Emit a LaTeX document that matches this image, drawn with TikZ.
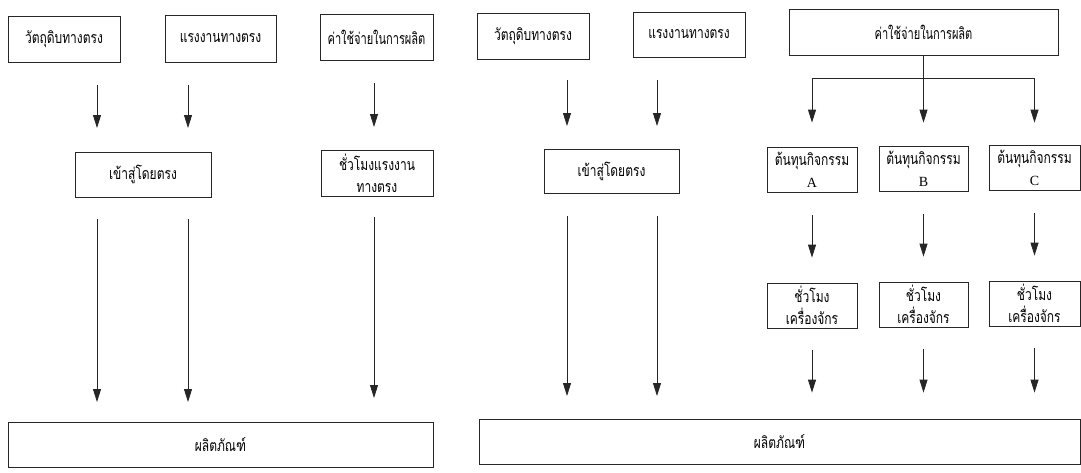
\documentclass[tikz,border=0pt]{standalone}
\usepackage{fontspec}
\newfontfamily\thaifont[Script=Thai,FakeStretch=0.75]{Loma}
\newfontfamily\latinserif{Liberation Serif}
\usetikzlibrary{arrows.meta}
\newcommand\mybox[6]{\node[box, minimum width={(#4)-(#2)}, minimum height={(#5)-(#3)}] (#1) at ({((#2)+(#4))/2},{((#3)+(#5))/2}) {#6};}
\newcommand\lat[1]{{\latinserif\fontsize{14}{22}\selectfont #1}}
\newcommand\narrow[1]{\scalebox{0.92}[1]{#1}}
\begin{document}
\begin{tikzpicture}[x=1pt,y=-1pt,
  box/.style={draw=black!85, line width=0.8pt, inner sep=0pt, align=center,
    font=\thaifont\fontsize{16}{22}\selectfont},
  arr/.style={draw=black!85, line width=0.8pt, -{Triangle[length=13pt,width=8pt]}},
  ln/.style={draw=black!85, line width=0.8pt}]
\useasboundingbox (0,0) rectangle (1081,472);
\fill[white] (0,0) rectangle (1081,472);
% ---- left diagram ----
\mybox{L1}{8}{16}{120}{62}{วัตถุดิบทางตรง}
\mybox{L2}{165}{15}{276}{62}{แรงงานทางตรง}
\mybox{L3}{320}{14}{433}{60}{\narrow{ค่าใช้จ่ายในการผลิต}}
\mybox{L4}{75}{152}{211}{197}{เข้าสู่โดยตรง}
\mybox{L5}{321}{150}{433}{196}{ชั่วโมงแรงงาน\\ทางตรง}
\mybox{L6}{8}{422}{433}{467}{ผลิตภัณฑ์}
\coordinate (la1s) at (97,85);  \coordinate (la1e) at (97,128);
\coordinate (la2s) at (188,85); \coordinate (la2e) at (188,128);
\coordinate (la3s) at (374,83); \coordinate (la3e) at (374,127);
\coordinate (lb1s) at (97,219);  \coordinate (lb1e) at (97,402);
\coordinate (lb2s) at (188,219); \coordinate (lb2e) at (188,402);
\coordinate (lb3s) at (374,217); \coordinate (lb3e) at (374,398);
\foreach \a in {la1,la2,la3,lb1,lb2,lb3} \draw[arr] (\a s) -- (\a e);
% ---- right diagram ----
\mybox{R1}{477}{13}{589}{59}{วัตถุดิบทางตรง}
\mybox{R2}{633}{12}{745}{57}{แรงงานทางตรง}
\mybox{R3}{789}{9}{1058}{55}{\narrow{ค่าใช้จ่ายในการผลิต}}
\mybox{R4}{544}{149}{679}{193}{เข้าสู่โดยตรง}
\mybox{RA}{767}{147}{857}{192}{ต้นทุนกิจกรรม\\\lat{A}}
\mybox{RB}{879}{146}{968}{191}{ต้นทุนกิจกรรม\\\lat{B}}
\mybox{RC}{989}{145}{1080}{190}{ต้นทุนกิจกรรม\\\lat{C}}
\mybox{MA}{767}{283}{857}{328}{ชั่วโมง\\เครื่องจักร}
\mybox{MB}{879}{282}{968}{327}{ชั่วโมง\\เครื่องจักร}
\mybox{MC}{989}{281}{1080}{326}{ชั่วโมง\\เครื่องจักร}
\mybox{R5}{479}{419}{1080}{464}{ผลิตภัณฑ์}
\coordinate (ra1s) at (567,80);  \coordinate (ra1e) at (567,126);
\coordinate (ra2s) at (657,80);  \coordinate (ra2e) at (657,126);
\coordinate (rb1s) at (567,216); \coordinate (rb1e) at (567,396);
\coordinate (rb2s) at (657,216); \coordinate (rb2e) at (657,396);
\foreach \a in {ra1,ra2,rb1,rb2} \draw[arr] (\a s) -- (\a e);
% branching trunk
\coordinate (tl) at (RA.north |- 0,78);
\coordinate (tr) at (RC.north |- 0,78);
\draw[ln] (tl) -- (tr);
\draw[arr, shorten >=24pt] (tl) -- (RA.north);
\draw[arr, shorten >=23pt] (R3.south) -- (RB.north);
\draw[arr, shorten >=22pt] (tr) -- (RC.north);
% activity -> machine hours -> product
\foreach \t/\m in {RA/MA,RB/MB,RC/MC}{
  \draw[arr, shorten <=23pt, shorten >=25pt] (\t.south) -- (\m.north);
  \draw[arr, shorten <=22pt, shorten >=26pt] (\m.south) -- (\m.south |- R5.north);
}
\end{tikzpicture}
\end{document}
